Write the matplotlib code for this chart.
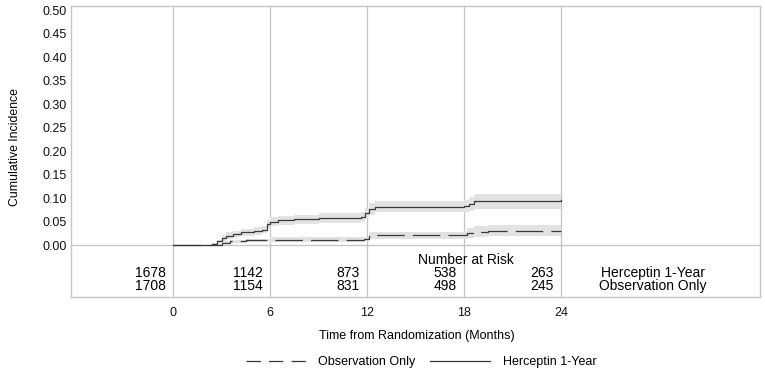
import matplotlib
matplotlib.use('Agg')
import matplotlib.pyplot as plt
from matplotlib.lines import Line2D

plt.rcParams['font.family'] = ['Liberation Sans', 'DejaVu Sans']

# Herceptin 1-Year: step times (months), cumulative incidence, CI half width
herc_t = [0, 2.4, 2.7, 3.0, 3.3, 3.7, 4.2, 5.0, 5.5, 5.8, 6.0, 6.5, 7.5, 9.0, 11.6, 11.9, 12.1, 12.5, 18.0, 18.3, 18.6, 24.0]
herc_v = [0, 0.002, 0.008, 0.015, 0.020, 0.024, 0.027, 0.030, 0.033, 0.045, 0.050, 0.053, 0.055, 0.058, 0.060, 0.068, 0.077, 0.082, 0.083, 0.087, 0.093, 0.095]
herc_ci = [0, 0.002, 0.004, 0.006, 0.007, 0.007, 0.008, 0.008, 0.008, 0.009, 0.009, 0.010, 0.010, 0.010, 0.010, 0.011, 0.012, 0.012, 0.013, 0.015, 0.016, 0.017]

# Observation Only
obs_t = [0, 2.5, 3.0, 3.5, 4.5, 6.0, 7.0, 11.8, 12.1, 18.0, 18.2, 18.6, 19.5, 24.0]
obs_v = [0, 0.001, 0.005, 0.008, 0.010, 0.012, 0.012, 0.013, 0.021, 0.022, 0.026, 0.029, 0.031, 0.031]
obs_ci = [0, 0.001, 0.003, 0.004, 0.004, 0.005, 0.005, 0.005, 0.007, 0.008, 0.010, 0.011, 0.012, 0.012]

# number at risk table
risk_times = [0, 6, 12, 18, 24]
risk_herc = [1678, 1142, 873, 538, 263]
risk_obs = [1708, 1154, 831, 498, 245]

grid_col = '#c4c4c4'
band_col = '#e2e2e2'
line_col = '#3a3a3a'

fig = plt.figure(figsize=(7.65, 3.8), dpi=100)
ax = fig.add_axes([0.093, 0.218, 0.9, 0.766])
ax.set_xlim(-6.31, 36.3)
ax.set_ylim(-0.1106, 0.5085)

for s in ax.spines.values():
    s.set_color(grid_col)
    s.set_linewidth(1)

for t in risk_times:
    ax.axvline(t, color=grid_col, lw=0.9, zorder=1)
ax.axhline(0, color=grid_col, lw=0.9, zorder=1)

# confidence bands
ax.fill_between(herc_t, [v - c for v, c in zip(herc_v, herc_ci)],
                [v + c for v, c in zip(herc_v, herc_ci)],
                step='post', color=band_col, lw=0, zorder=2)
ax.fill_between(obs_t, [v - c for v, c in zip(obs_v, obs_ci)],
                [v + c for v, c in zip(obs_v, obs_ci)],
                step='post', color=band_col, lw=0, zorder=2)

ax.step(herc_t, herc_v, where='post', color=line_col, lw=0.9, zorder=3)
ax.step(obs_t, obs_v, where='post', color=line_col, lw=0.9, zorder=3,
        dashes=(22, 6.5))

ax.set_yticks([0.0, 0.05, 0.10, 0.15, 0.20, 0.25, 0.30, 0.35, 0.40, 0.45, 0.50])
ax.set_yticklabels(['%.2f' % v for v in ax.get_yticks()])
ax.set_xticks(risk_times)
ax.set_xticklabels([str(t) for t in risk_times])
ax.tick_params(axis='both', length=0, labelsize=9, colors='#111111')
ax.tick_params(axis='y', pad=3)
ax.tick_params(axis='x', pad=7)

# risk table
fs = 10
ax.text(18.1, -0.032, 'Number at Risk', ha='center', va='center', fontsize=fs)
for t, h, o in zip(risk_times, risk_herc, risk_obs):
    ax.text(t - 0.45, -0.0596, str(h), ha='right', va='center', fontsize=fs)
    ax.text(t - 0.45, -0.087, str(o), ha='right', va='center', fontsize=fs)
ax.text(29.7, -0.0596, 'Herceptin 1-Year', ha='center', va='center', fontsize=fs)
ax.text(29.7, -0.087, 'Observation Only', ha='center', va='center', fontsize=fs)

fig.text(0.019, 1 - 147 / 380, 'Cumulative Incidence', rotation=90, ha='center', va='center', fontsize=8.8)
fig.text(0.545, 1 - 336 / 380, 'Time from Randomization (Months)', ha='center', va='center', fontsize=9)

handles = [Line2D([], [], color=line_col, lw=0.9, dashes=(11.5, 6.5)),
           Line2D([], [], color=line_col, lw=0.9)]
fig.legend(handles, ['Observation Only', 'Herceptin 1-Year'], loc='center',
           bbox_to_anchor=(421 / 765, 1 - 362 / 380), ncol=2, frameon=False,
           fontsize=9, handlelength=4.8, handletextpad=1.0, columnspacing=1.2)

fig.savefig('out.png', dpi=100)
